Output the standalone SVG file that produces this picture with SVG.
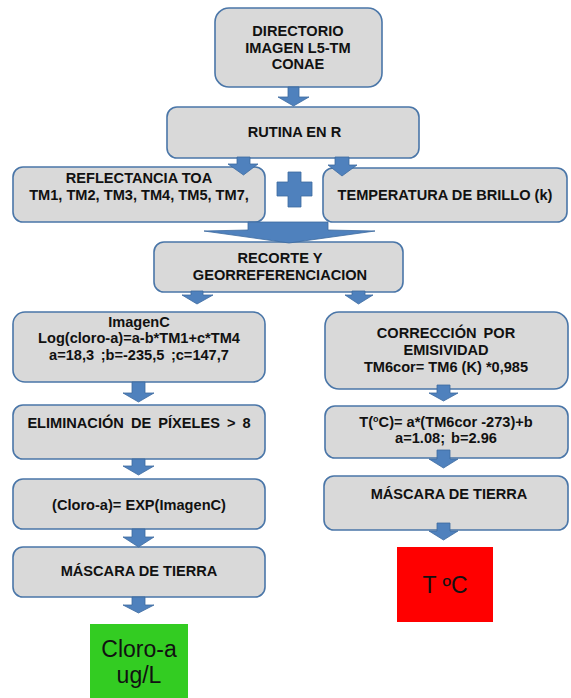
<svg xmlns="http://www.w3.org/2000/svg" width="571" height="698" viewBox="0 0 571 698">
<style>
.box{fill:#d9d9d9;stroke:#4a76a8;stroke-width:1.6}
.t{font-family:"Liberation Sans",Arial,sans-serif;font-weight:bold;font-size:14.6px;fill:#111;text-anchor:middle}
.big{font-family:"Liberation Sans",Arial,sans-serif;font-size:23px;fill:#111;text-anchor:middle}
.arr{fill:#4f81bd;stroke:#3d6b9f;stroke-width:0.8;stroke-linejoin:miter}
</style>
<rect width="571" height="698" fill="#ffffff"/>
<g id="n-directorio">
<rect class="box" x="215" y="8" width="167" height="79" rx="14"/>
<text class="t" x="298" y="36">DIRECTORIO</text>
<text class="t" x="298" y="52.5">IMAGEN L5-TM</text>
<text class="t" x="298" y="69">CONAE</text>
</g>
<g id="n-rutina">
<rect class="box" x="167" y="107" width="252" height="51" rx="10"/>
<text class="t" x="294.5" y="137">RUTINA EN R</text>
</g>
<g id="n-reflectancia">
<rect class="box" x="13" y="167" width="252" height="55" rx="10"/>
<text class="t" x="139" y="183">REFLECTANCIA TOA</text>
<text class="t" x="139" y="200">TM1, TM2, TM3, TM4, TM5, TM7,</text>
</g>
<g id="n-plus">
<path class="arr" d="M288,172 H301 V182 H312 V196 H301 V207 H288 V196 H277 V182 H288 Z"/>
</g>
<g id="n-temperatura">
<rect class="box" x="323" y="168" width="244" height="54" rx="10"/>
<text class="t" x="445" y="200">TEMPERATURA DE BRILLO (k)</text>
</g>
<g id="n-recorte">
<rect class="box" x="154" y="242" width="249" height="50" rx="10"/>
<text class="t" x="280" y="263">RECORTE Y</text>
<text class="t" x="280" y="280">GEORREFERENCIACION</text>
</g>
<g id="n-imagenc">
<rect class="box" x="13" y="312" width="252" height="70" rx="12"/>
<text class="t" x="139" y="327">ImagenC</text>
<text class="t" x="139" y="343">Log(cloro-a)=a-b*TM1+c*TM4</text>
<text class="t" x="139" y="360" style="word-spacing:2.5px">a=18,3 ;b=-235,5 ;c=147,7</text>
</g>
<g id="n-correccion">
<rect class="box" x="325" y="312" width="243" height="77" rx="14"/>
<text class="t" x="446" y="338" style="word-spacing:3px">CORRECCIÓN POR</text>
<text class="t" x="446" y="355">EMISIVIDAD</text>
<text class="t" x="446" y="372">TM6cor= TM6 (K) *0,985</text>
</g>
<g id="n-eliminacion">
<rect class="box" x="13" y="405" width="252" height="54" rx="10"/>
<text class="t" x="139" y="428" style="word-spacing:3px">ELIMINACIÓN DE PÍXELES &gt; 8</text>
</g>
<g id="n-temp-formula">
<rect class="box" x="325" y="406" width="243" height="52" rx="10"/>
<text class="t" x="446" y="427">T(<tspan font-size="9" dy="-5">o</tspan><tspan dy="5">C)= a*(TM6cor -273)+b</tspan></text>
<text class="t" x="446" y="443" style="word-spacing:2px">a=1.08; b=2.96</text>
</g>
<g id="n-exp">
<rect class="box" x="13" y="479" width="252" height="50" rx="10"/>
<text class="t" x="139" y="510">(Cloro-a)= EXP(ImagenC)</text>
</g>
<g id="n-mascara-r">
<rect class="box" x="324" y="476" width="244" height="54" rx="10"/>
<text class="t" x="449" y="499">MÁSCARA DE TIERRA</text>
</g>
<g id="n-mascara-l">
<rect class="box" x="13" y="547" width="252" height="50" rx="10"/>
<text class="t" x="139" y="576">MÁSCARA DE TIERRA</text>
</g>
<g id="n-cloro">
<rect x="90" y="624" width="98" height="74" fill="#33cc22"/>
<text class="big" x="139" y="657">Cloro-a</text>
<text class="big" x="139" y="683">ug/L</text>
</g>
<g id="n-tc">
<rect x="397" y="547" width="96" height="75" fill="#ff0000"/>
<text class="big" x="445" y="593">T ºC</text>
</g>
<g id="connectors">
<polygon class="arr" points="288,87 299,87 299,97 309,97 293.5,106 278,97 288,97"/>
<polygon class="arr" points="237,157 250,157 250,164 258,164 243.5,175 228,164 237,164"/>
<polygon class="arr" points="335,157 349,157 349,165 357,165 342,176 328,165 335,165"/>
<polygon class="arr" points="248,222 328,222 328,230 375,231 289,243 204,231 248,230"/>
<polygon class="arr" points="191,291 203,291 203,295 213,295 197,304 182,295 191,295"/>
<polygon class="arr" points="352,291 365,291 365,295 373,295 358.5,304 345,295 352,295"/>
<polygon class="arr" points="132,382 145,382 145,393 154,393 138.5,402 123,393 132,393"/>
<polygon class="arr" points="132,459 145,459 145,466 154,466 138.5,475 123,466 132,466"/>
<polygon class="arr" points="132,529 145,529 145,537 154,537 138.5,547 123,537 132,537"/>
<polygon class="arr" points="132,597 145,597 145,605 154,605 138.5,613 123,605 132,605"/>
<polygon class="arr" points="437,385 450,385 450,393 458,393 443.5,401 429,393 437,393"/>
<polygon class="arr" points="437,450 450,450 450,459 458,459 443.5,468 429,459 437,459"/>
<polygon class="arr" points="437,523 450,523 450,531 458,531 443.5,540 429,531 437,531"/>
</g>
</svg>
